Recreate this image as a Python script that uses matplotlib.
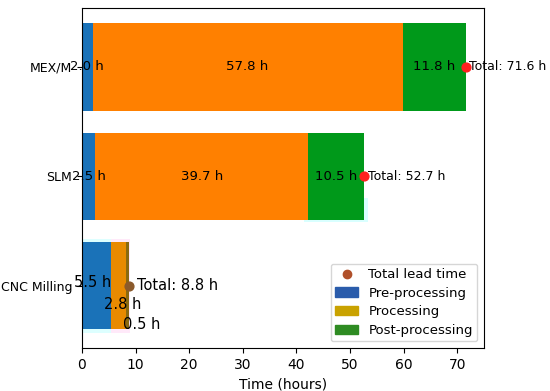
import matplotlib.pyplot as plt
import numpy as np
from matplotlib.patches import Patch
from matplotlib.lines import Line2D

# data (bottom -> top)
processes = ['CNC Milling', 'SLM', 'MEX/M']
pre_processing = [5.5, 2.5, 2.0]
processing = [2.8, 39.7, 57.8]
post_processing = [0.5, 10.5, 11.8]
totals = [8.8, 52.7, 71.6]

bar_colors = ['#1a72b8', '#ff8000', '#00991a']
legend_colors = ['#2a5cab', '#c9a200', '#2e8b22']

fig = plt.figure(figsize=(5.5, 3.91), dpi=100)
ax = fig.add_axes([0.149, 0.11, 0.731, 0.87])

y = np.arange(len(processes))
pre = np.array(pre_processing)
proc = np.array(processing)
post = np.array(post_processing)

post_colors = ['#8a6a10', bar_colors[2], bar_colors[2]]
ax.barh(y, pre, height=0.8, color=bar_colors[0])
ax.barh(y, proc, left=pre, height=0.8, color=['#e88a00', bar_colors[1], bar_colors[1]])
ax.barh(y, post, left=pre + proc, height=0.8, color=post_colors)

# faint highlight artifacts around the CNC bars and under the SLM bar
ax.barh(y[0], pre[0] + 0.3, left=-0.3, height=0.86, color='#a0ffff', alpha=0.35, zorder=0)
ax.barh(y[0], proc[0] + 0.6, left=pre[0], height=0.86, color='#ffc8f0', alpha=0.4, zorder=0)
ax.barh(y[1] - 0.31, post[1] + 1.5, left=pre[1] + proc[1] - 0.8, height=0.22,
        color='#a0ffff', alpha=0.4, zorder=0)

# segment labels
for i in range(1, len(processes)):
    ax.text(pre[i] / 2, y[i], f"{pre[i]:.1f} h", ha='center', va='center', fontsize=9.5)
    ax.text(pre[i] + proc[i] / 2, y[i], f"{proc[i]:.1f} h", ha='center', va='center', fontsize=9.5)
    ax.text(pre[i] + proc[i] + post[i] / 2, y[i], f"{post[i]:.1f} h", ha='center', va='center', fontsize=9.5)
    ax.scatter(totals[i], y[i], color='#ff2020', s=40, zorder=5)
    ax.text(totals[i] + 0.6, y[i], f"Total: {totals[i]:.1f} h", ha='left', va='center', fontsize=9)

# CNC labels are crowded, shifted around
ax.text(1.9, y[0] + 0.03, f"{pre[0]:.1f} h", ha='center', va='center', fontsize=10.5)
ax.text(7.6, y[0] - 0.17, f"{proc[0]:.1f} h", ha='center', va='center', fontsize=10.5)
ax.text(11.2, y[0] - 0.36, f"{post[0]:.1f} h", ha='center', va='center', fontsize=10.5)
ax.scatter(totals[0], y[0], color='#8b5a2b', s=40, zorder=5)
ax.text(totals[0] + 1.4, y[0], f"Total: {totals[0]:.1f} h", ha='left', va='center', fontsize=10.5)

ax.set_yticks(y)
ax.set_yticklabels(processes, fontsize=9)
ax.tick_params(axis='x', labelsize=10)
ax.set_xlim(0, 75)
ax.set_xlabel("Time (hours)", fontsize=10)

handles = [
    Line2D([], [], marker='o', linestyle='none', color='#b0502a', markersize=6),
    Patch(color=legend_colors[0]),
    Patch(color=legend_colors[1]),
    Patch(color=legend_colors[2]),
]
labels = ['Total lead time', 'Pre-processing', 'Processing', 'Post-processing']
ax.legend(handles, labels, loc='lower right', fontsize=9.5, labelspacing=0.42,
          handlelength=1.7, handletextpad=0.8, borderpad=0.35)

fig.savefig("out.png", dpi=100)
